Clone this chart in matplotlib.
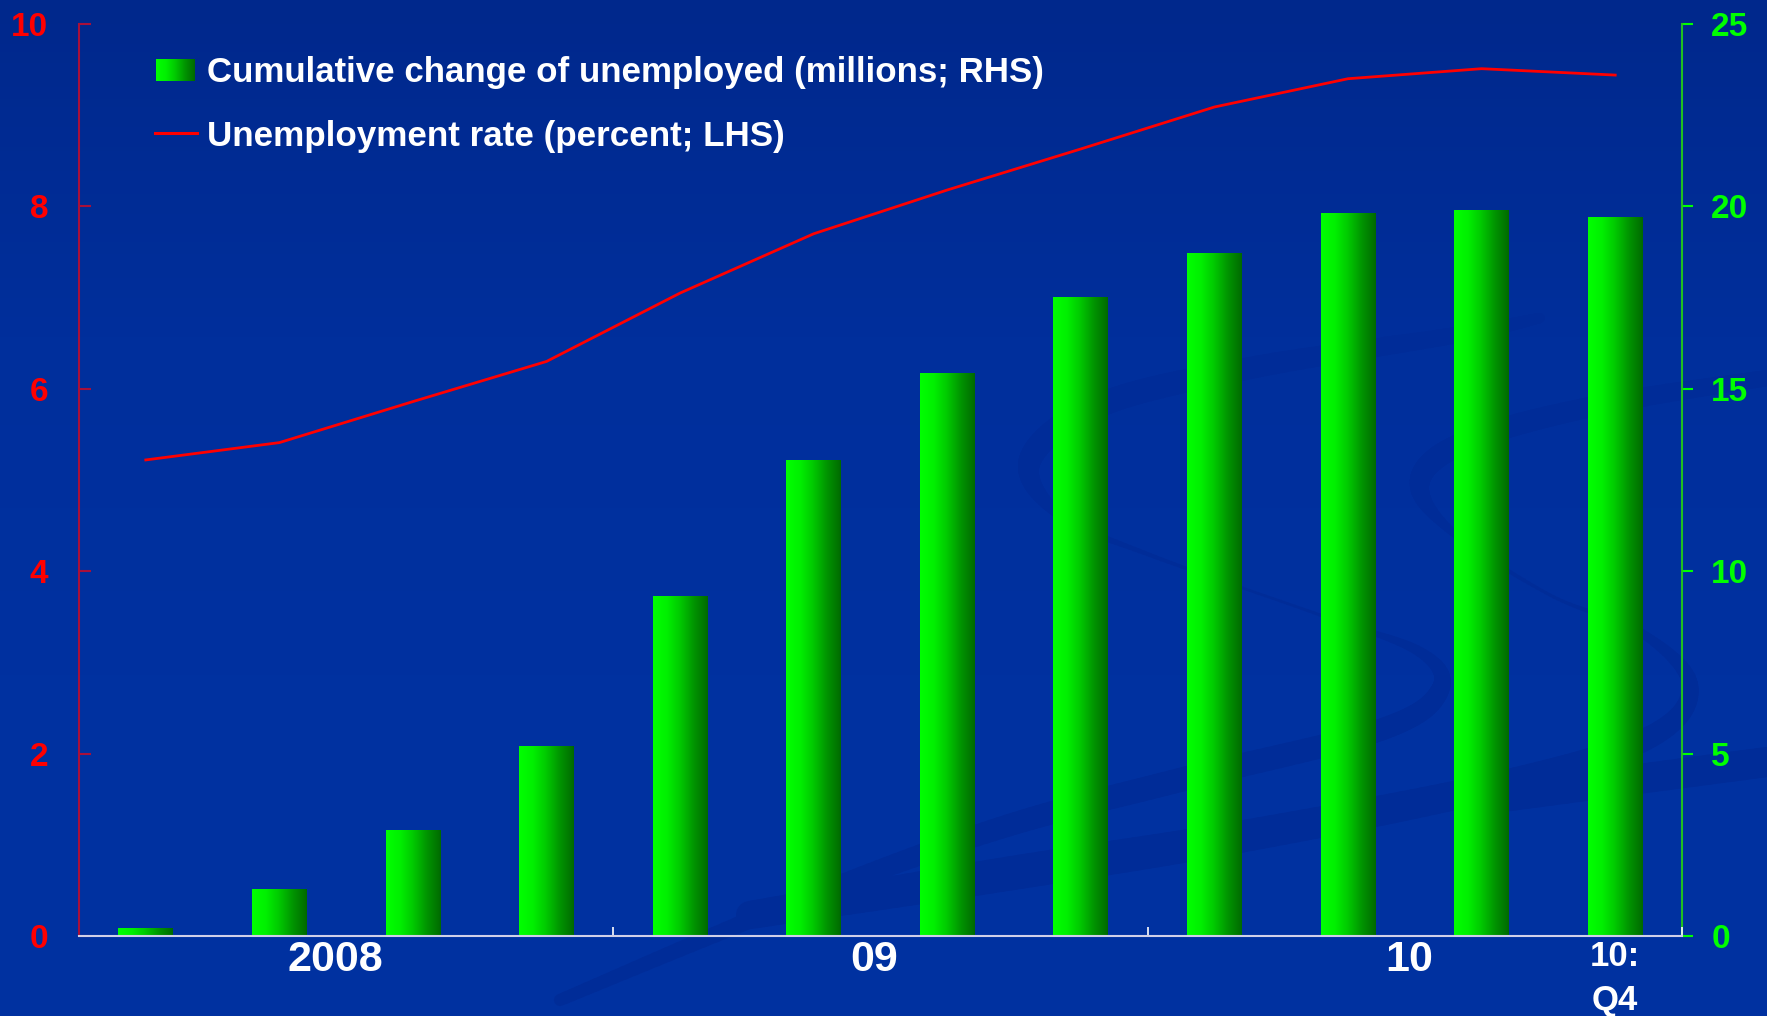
import numpy as np
import matplotlib.pyplot as plt
from matplotlib.colors import LinearSegmentedColormap
from matplotlib.collections import LineCollection
from matplotlib.lines import Line2D

plt.rcParams['font.family'] = ['Liberation Sans', 'DejaVu Sans']
plt.rcParams['font.weight'] = 'bold'

# quarterly data, 2008:Q1 - 2010:Q4
quarters = ['2008Q1', '2008Q2', '2008Q3', '2008Q4',
            '2009Q1', '2009Q2', '2009Q3', '2009Q4',
            '2010Q1', '2010Q2', '2010Q3', '2010Q4']
unemployed_change = [0.2, 1.27, 2.88, 5.2, 9.31, 13.03,
                     15.41, 17.51, 18.72, 19.8, 19.88, 19.7]   # millions, RHS
unemployment_rate = [5.22, 5.41, 5.86, 6.30, 7.05, 7.70,
                     8.18, 8.63, 9.09, 9.40, 9.51, 9.44]       # percent, LHS

year_labels = ['2008', '09', '10', '10:\nQ4']
year_label_pos = [1.42, 5.45, 9.46, 11.0]
year_breaks = [-0.5, 3.5, 7.5, 11.5]

bar_label = 'Cumulative change of unemployed (millions; RHS)'
line_label = 'Unemployment rate (percent; LHS)'

W, H = 1767, 1016
fig = plt.figure(figsize=(W / 100, H / 100), dpi=100)

# dark blue slide background, a little darker at the top
bg_cmap = LinearSegmentedColormap.from_list('bg', ['#00288c', '#002f9c', '#0031a0', '#0031a0'])
bg = fig.add_axes([0, 0, 1, 1], zorder=-10)
bg.imshow(np.linspace(0, 1, 256).reshape(-1, 1), cmap=bg_cmap, aspect='auto',
          extent=(0, W, H, 0))
bg.set_xlim(0, W)
bg.set_ylim(H, 0)
bg.axis('off')


def swoosh(pts, n=24):
    # smooth stroke of varying width through (x, y, width_px) control points
    p = np.asarray(pts, float)
    p = np.vstack([p[0], p, p[-1]])
    out = []
    for i in range(1, len(p) - 2):
        p0, p1, p2, p3 = p[i - 1], p[i], p[i + 1], p[i + 2]
        for t in np.linspace(0, 1, n, endpoint=False):
            t2, t3 = t * t, t * t * t
            out.append(0.5 * (2 * p1 + (-p0 + p2) * t + (2 * p0 - 5 * p1 + 4 * p2 - p3) * t2
                              + (-p0 + 3 * p1 - 3 * p2 + p3) * t3))
    out.append(p[-2])
    out = np.array(out)
    segs = np.stack([out[:-1, :2], out[1:, :2]], axis=1)
    widths = (out[:-1, 2] + out[1:, 2]) / 2 * 0.72
    bg.add_collection(LineCollection(segs, linewidths=widths, colors='#002c98',
                                     capstyle='round'))


swoosh([(1540, 318, 10), (1457, 335, 16), (1250, 368, 22), (1100, 405, 24),
        (1030, 460, 22), (1060, 515, 10), (1150, 555, 4), (1320, 615, 3),
        (1420, 652, 10), (1440, 690, 18), (1380, 730, 22), (1180, 780, 24),
        (1000, 828, 22), (800, 900, 18), (560, 1000, 12)])
swoosh([(1767, 378, 16), (1600, 405, 20), (1470, 440, 22), (1420, 480, 20),
        (1450, 530, 8), (1550, 595, 3), (1640, 632, 8), (1690, 685, 16),
        (1650, 737, 22), (1500, 785, 28), (1250, 835, 32), (1000, 875, 34),
        (750, 915, 28)])
swoosh([(1480, 800, 30), (1767, 762, 30)])

bar_cmap = LinearSegmentedColormap.from_list(
    'bar', ['#00ff00', '#00f000', '#00c800', '#009400', '#006a00'])
grad = np.linspace(0, 1, 128).reshape(1, -1)

ax = fig.add_axes([79 / W, 1 - 936 / H, (1682 - 79) / W, (936 - 24) / H])
ax2 = ax.twinx()
ax.set_zorder(ax2.get_zorder() + 1)
ax.patch.set_visible(False)
ax2.patch.set_visible(False)

x = np.arange(len(quarters))

# bars with a left-to-right green shading
bars = ax2.bar(x, unemployed_change, width=0.41, color='none', edgecolor='none')
for b in bars:
    x0 = b.get_x()
    ax2.imshow(grad, cmap=bar_cmap, aspect='auto', interpolation='bilinear',
               extent=(x0, x0 + b.get_width(), 0, b.get_height()), zorder=2)

ax.plot(x, unemployment_rate, color='#ff0000', lw=2.0)

ax.set_xlim(-0.5, 11.5)
ax2.set_xlim(-0.5, 11.5)
ax.set_ylim(0, 10)
ax2.set_ylim(0, 25)
ax.set_yticks(np.arange(0, 11, 2))
ax2.set_yticks(np.arange(0, 26, 5))

for s in ['top', 'right']:
    ax.spines[s].set_visible(False)
for s in ['top', 'left', 'bottom']:
    ax2.spines[s].set_visible(False)
ax.spines['left'].set_color('#a8103a')
ax.spines['left'].set_linewidth(1.5)
ax.spines['bottom'].set_color('#d0d0e8')
ax.spines['bottom'].set_linewidth(1.5)
ax2.spines['right'].set_color('#20c020')
ax2.spines['right'].set_linewidth(1.5)

ax.tick_params(axis='y', direction='in', length=8.5, width=1.5, color='#a8103a',
               labelcolor='#ff0000', labelsize=24, pad=22)
ax2.tick_params(axis='y', direction='out', length=8, width=1.5, color='#00ff00',
                labelcolor='#00ff00', labelsize=24, pad=13)

ax.set_xticks(year_breaks)
ax.set_xticklabels([])
ax.tick_params(axis='x', which='major', direction='in', length=6.5, width=1.2,
               color='white')
ax.set_xticks(year_label_pos, minor=True)
ax.set_xticklabels(year_labels, minor=True)
ax.tick_params(axis='x', which='minor', length=0, labelsize=31,
               labelcolor='white', pad=3)
last = ax.get_xticklabels(minor=True)[-1]
last.set_fontsize(25)
last.set_linespacing(1.42)

# legend drawn by hand: shaded swatch and red stroke
sw = fig.add_axes([156 / W, 1 - 81 / H, 39 / W, 22 / H])
sw.imshow(grad, cmap=bar_cmap, aspect='auto', interpolation='bilinear')
sw.axis('off')
fig.text(207 / W, 1 - 82 / H, bar_label, color='white', fontsize=25.1,
         fontweight='bold', va='baseline')
fig.add_artist(Line2D([155 / W, 197 / W], [1 - 133 / H] * 2, color='#ff0000', lw=2.2))
fig.text(207 / W, 1 - 146 / H, line_label, color='white', fontsize=25.2,
         fontweight='bold', va='baseline')

fig.savefig('out.png', dpi=100, facecolor=fig.get_facecolor())
